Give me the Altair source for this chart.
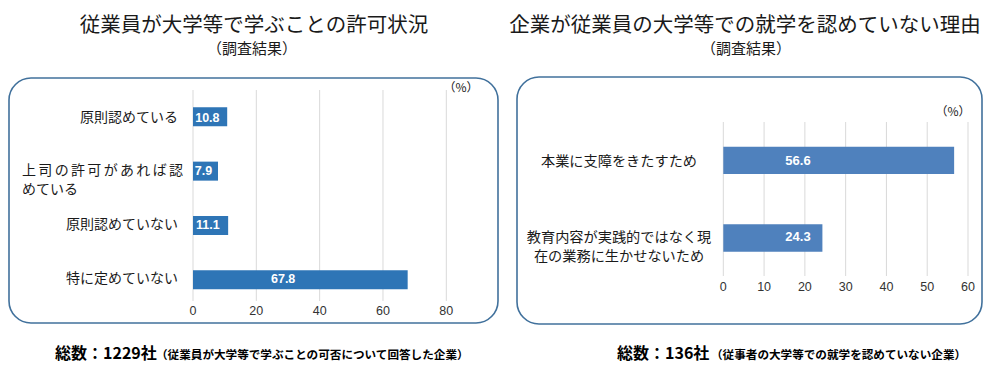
import altair as alt
import pandas as pd

# ---------------- data ----------------
left_categories = ["原則認めている", "上司の許可があれば認めている", "原則認めていない", "特に定めていない"]
left_values = [10.8, 7.9, 11.1, 67.8]
left_ticks = [0, 20, 40, 60, 80]

right_categories = ["本業に支障をきたすため", "教育内容が実践的ではなく現在の業務に生かせないため"]
right_values = [56.6, 24.3]
right_ticks = [0, 10, 20, 30, 40, 50, 60]

left_title = "従業員が大学等で学ぶことの許可状況"
right_title = "企業が従業員の大学等での就学を認めていない理由"
subtitle = "（調査結果）"
unit_label = "（%）"
left_total = "総数：1229社"
left_note = "（従業員が大学等で学ぶことの可否について回答した企業）"
right_total = "総数：136社"
right_note = "（従事者の大学等での就学を認めていない企業）"

# ---------------- styling ----------------
FONT = "Noto Sans CJK JP"
NUM_FONT = "Liberation Sans"
LEFT_BAR = "#2E75B6"
RIGHT_BAR = "#4F81BD"
GRID = "#D9D9D9"
BOX = "#41719C"
TXT = "#1a1a1a"


def wrap(s, n):
    return [s[i:i + n] for i in range(0, len(s), n)]


left_lines = []
for c in left_categories:
    parts = wrap(c, 10)
    if len(parts) > 1:
        parts[0] = "\u2006".join(parts[0])
    left_lines.append("\n".join(parts))
right_lines = ["\n".join(wrap(c, 13)) for c in right_categories]

left_df = pd.DataFrame({
    "category": left_categories,
    "value": left_values,
    "label": left_lines,
    "wrapped": [len(c) > 10 for c in left_categories],
})
right_df = pd.DataFrame({
    "category": right_categories,
    "value": right_values,
    "label": right_lines,
})
left_tick_df = pd.DataFrame({"t": left_ticks})
right_tick_df = pd.DataFrame({"t": right_ticks})
one = pd.DataFrame({"k": [0]})

lx = alt.Scale(domain=[0, 80], range=[193, 446.3], nice=False, zero=True)
ly = alt.Scale(domain=left_categories, range=[91, 305.6], paddingInner=0.65, paddingOuter=0.3)
rx = alt.Scale(domain=[0, 60], range=[723.3, 968], nice=False, zero=True)
ry = alt.Scale(domain=right_categories, range=[123.4, 275], paddingInner=0.648, paddingOuter=0.3)


def text_at(txt, x, y, size, align="center", weight="normal", baseline="middle", color=TXT):
    return alt.Chart(one).mark_text(
        text=txt, fontSize=size, align=align, baseline=baseline,
        fontWeight=weight, font=FONT, color=color
    ).encode(x=alt.value(x), y=alt.value(y))


def box(x1, x2, y1, y2):
    return alt.Chart(one).mark_rect(
        filled=False, stroke=BOX, strokeWidth=1.6, cornerRadius=22
    ).encode(x=alt.value(x1), x2=alt.value(x2), y=alt.value(y1), y2=alt.value(y2))


layers = []

# boxes
layers.append(box(9, 498, 78, 323))
layers.append(box(517, 982, 77, 324))

# ---- left panel ----
layers.append(
    alt.Chart(left_tick_df).mark_rule(color=GRID, strokeWidth=1).encode(
        x=alt.X("t:Q", scale=lx, axis=None), y=alt.value(90), y2=alt.value(301)
    )
)
layers.append(
    alt.Chart(left_df).mark_bar(color=LEFT_BAR).encode(
        x=alt.X("value:Q", scale=lx, axis=None),
        y=alt.Y("category:N", scale=ly, axis=None),
    )
)
layers.append(
    alt.Chart(left_df).transform_calculate(pos="datum.value * 0.42").mark_text(
        color="white", fontWeight="bold", fontSize=12.5, font=NUM_FONT, baseline="middle"
    ).encode(
        x=alt.X("pos:Q", scale=lx, axis=None),
        y=alt.Y("category:N", scale=ly, axis=None),
        text=alt.Text("value:Q", format=".1f"),
    )
)
layers.append(
    alt.Chart(left_df).transform_filter("!datum.wrapped").mark_text(
        align="right", baseline="middle", fontSize=14, font=FONT, color=TXT
    ).encode(
        x=alt.value(178), y=alt.Y("category:N", scale=ly, axis=None), text="label:N"
    )
)
layers.append(
    alt.Chart(left_df).transform_filter("datum.wrapped").mark_text(
        align="left", baseline="middle", fontSize=14, font=FONT, color=TXT,
        lineBreak="\n", lineHeight=18.5
    ).encode(
        x=alt.value(22), y=alt.Y("category:N", scale=ly, axis=None), text="label:N"
    )
)
layers.append(
    alt.Chart(left_tick_df).mark_text(
        fontSize=12.5, font=NUM_FONT, color="#333333", baseline="middle"
    ).encode(x=alt.X("t:Q", scale=lx, axis=None), y=alt.value(311), text="t:Q")
)
layers.append(text_at(unit_label, 461, 88, 12))

# ---- right panel ----
layers.append(
    alt.Chart(right_tick_df).mark_rule(color=GRID, strokeWidth=1).encode(
        x=alt.X("t:Q", scale=rx, axis=None), y=alt.value(122), y2=alt.value(276)
    )
)
layers.append(
    alt.Chart(right_df).mark_bar(color=RIGHT_BAR).encode(
        x=alt.X("value:Q", scale=rx, axis=None),
        y=alt.Y("category:N", scale=ry, axis=None),
    )
)
layers.append(
    alt.Chart(right_df).mark_text(
        color="white", fontWeight="bold", fontSize=13, font=NUM_FONT, baseline="middle"
    ).encode(
        x=alt.value(798),
        y=alt.Y("category:N", scale=ry, axis=None),
        text=alt.Text("value:Q", format=".1f"),
    )
)
layers.append(
    alt.Chart(right_df).mark_text(
        align="center", baseline="middle", fontSize=14.2, font=FONT, color=TXT,
        lineBreak="\n", lineHeight=18.5, dy=1
    ).encode(
        x=alt.value(619), y=alt.Y("category:N", scale=ry, axis=None), text="label:N"
    )
)
layers.append(
    alt.Chart(right_tick_df).mark_text(
        fontSize=12.5, font=NUM_FONT, color="#333333", baseline="middle"
    ).encode(x=alt.X("t:Q", scale=rx, axis=None), y=alt.value(287), text="t:Q")
)
layers.append(text_at(unit_label, 953, 112, 12))

# ---- titles ----
layers.append(text_at(left_title, 254, 26, 20.5))
layers.append(text_at(subtitle, 252, 49, 15))
layers.append(text_at(right_title, 745, 26, 20.5))
layers.append(text_at(subtitle, 746, 49, 15))

# ---- footnotes ----
layers.append(text_at(left_total, 55, 359, 16, align="left", weight="bold", baseline="alphabetic", color="#000"))
layers.append(text_at(left_note, 156, 359, 11.6, align="left", weight="bold", baseline="alphabetic", color="#000"))
layers.append(text_at(right_total, 617, 359, 16, align="left", weight="bold", baseline="alphabetic", color="#000"))
layers.append(text_at(right_note, 711, 359, 11.6, align="left", weight="bold", baseline="alphabetic", color="#000"))

chart = alt.layer(*layers).resolve_scale(
    x="independent", y="independent"
).properties(
    width=1002, height=374,
    autosize=alt.AutoSizeParams(type="none"),
    padding=0,
    background="white",
).configure_view(stroke=None)

chart.save("out.html", embed_options={"renderer": "svg", "actions": False})
